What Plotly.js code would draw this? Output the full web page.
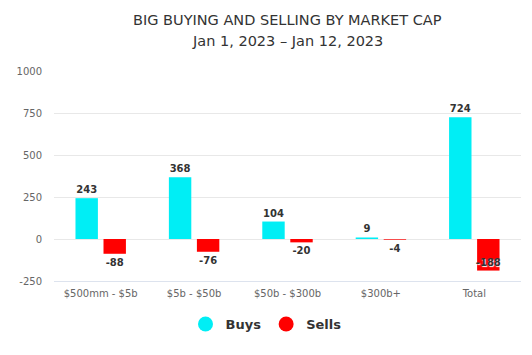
<!DOCTYPE html>
<html>
<head>
<meta charset="utf-8">
<script src="https://cdn.plot.ly/plotly-3.0.1.min.js"></script>
<style>html,body{margin:0;padding:0;background:#fff;}#chart{width:532px;height:355px;}</style>
</head>
<body>
<div id="chart"></div>
<script>
const categories = ["$500mm - $5b", "$5b - $50b", "$50b - $300b", "$300b+", "Total"];
const buys = [243, 368, 104, 9, 724];
const sells = [-88, -76, -20, -4, -188];
const yTicks = [-250, 0, 250, 500, 750, 1000];
const yTickLabels = ["-250", "0", "250", "500", "750", "1000"];
const titleLine1 = "BIG BUYING AND SELLING BY MARKET CAP";
const titleLine2 = "Jan 1, 2023 \u2013 Jan 12, 2023";

const FONT = "DejaVu Sans, Verdana, sans-serif";
const labelFont = {family: FONT, size: 10, color: "#333333", weight: "bold"};

const traces = [
  {
    type: "bar", name: "Buys", x: categories, y: buys,
    marker: {color: "#00eef5"},
    text: buys.map(String), textposition: "outside",
    textfont: labelFont, outsidetextfont: labelFont,
    cliponaxis: false, showlegend: false, hoverinfo: "x+y"
  },
  {
    type: "bar", name: "Sells", x: categories, y: sells,
    marker: {color: "#ff0000"},
    text: sells.map(String),
    textposition: sells.map((v, i) => i === sells.length - 1 ? "inside" : "outside"),
    insidetextanchor: "end", constraintext: "none", textangle: 0,
    textfont: labelFont, outsidetextfont: labelFont,
    insidetextfont: Object.assign({}, labelFont, {shadow: "1px 1px 1px #ffffff"}),
    cliponaxis: false, showlegend: false, hoverinfo: "x+y"
  },
  {type: "scatter", mode: "markers", name: "Buys", x: [null], y: [null],
   marker: {color: "#00eef5", size: 15, symbol: "circle"}, showlegend: true},
  {type: "scatter", mode: "markers", name: "Sells", x: [null], y: [null],
   marker: {color: "#ff0000", size: 15, symbol: "circle"}, showlegend: true}
];

const plotTop = 71, plotBottom = 281;
const toPaperY = px => (plotBottom - px) / (plotBottom - plotTop);

const layout = {
  width: 532, height: 355,
  margin: {l: 54, r: 11, t: plotTop, b: 355 - plotBottom},
  paper_bgcolor: "#ffffff", plot_bgcolor: "#ffffff",
  font: {family: FONT, color: "#666666"},
  annotations: [
    {text: titleLine1, xref: "paper", yref: "paper", x: 0.5, y: toPaperY(20),
     xanchor: "center", yanchor: "middle", showarrow: false,
     font: {family: FONT, size: 14.5, color: "#333333"}},
    {text: titleLine2, xref: "paper", yref: "paper", x: 0.5, y: toPaperY(41),
     xanchor: "center", yanchor: "middle", showarrow: false,
     font: {family: FONT, size: 14.5, color: "#333333"}}
  ],
  barmode: "group", bargap: 0.4, bargroupgap: 0.2,
  xaxis: {
    type: "category", showgrid: false, zeroline: false,
    showline: true, linecolor: "#dde3ee", linewidth: 1,
    ticks: "", ticklabelstandoff: 3,
    tickfont: {family: FONT, size: 10, color: "#666666"},
    fixedrange: true
  },
  yaxis: {
    range: [-250, 1000], tickvals: yTicks, ticktext: yTickLabels,
    showgrid: true, gridcolor: "#e8e8e8", gridwidth: 1,
    zeroline: false, showline: false, ticks: "", ticklen: 0,
    ticklabelstandoff: 11,
    tickfont: {family: FONT, size: 10, color: "#666666"},
    fixedrange: true
  },
  showlegend: true,
  legend: {
    orientation: "h", x: 0.5, xanchor: "center", xref: "container",
    y: 0.045, yanchor: "bottom", yref: "container",
    font: {family: FONT, size: 13, color: "#333333", weight: "bold"},
    itemwidth: 30, tracegroupgap: 0
  }
};

Plotly.newPlot("chart", traces, layout, {displayModeBar: false, staticPlot: true});
</script>
</body>
</html>
